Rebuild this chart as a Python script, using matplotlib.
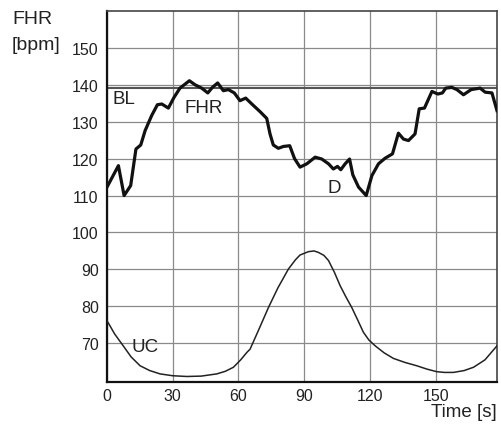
import numpy as np
import matplotlib
matplotlib.use('Agg')
import matplotlib.pyplot as plt

plt.rcParams['font.family'] = ['Liberation Sans', 'DejaVu Sans']

# FHR trace (time [s], bpm)
fhr_t = [0, 5.2, 7.8, 10.8, 13.2, 15.4, 17.4, 20.4, 23, 25, 28, 30.6, 33.3, 37.6, 40.2,
         43.2, 46, 48.1, 50.5, 53.1, 55.4, 58.1, 60.7, 63.3, 66.1, 69.9, 72.9, 74.4, 75.9,
         78.2, 80.5, 83.4, 85.6, 88.1, 91.2, 95, 98, 101.1, 103.3, 105.2, 106.7, 108.7,
         110.7, 112.2, 114.8, 118.3, 120.9, 123.9, 126.9, 130.3, 133, 135.3, 137.6, 140.6,
         142.5, 144.9, 148.3, 151, 153.1, 154.6, 157.4, 159.7, 162.7, 166.2, 170.3, 172.6,
         175.7, 178]
fhr_v = [112.3, 118.1, 110, 112.7, 122.6, 123.7, 127.6, 131.7, 134.6, 134.8, 133.7, 136.6,
         139.1, 141.1, 140, 139.1, 137.8, 139.3, 140.5, 138.4, 138.7, 137.8, 135.7, 136.4,
         134.8, 132.7, 130.9, 126.7, 123.7, 122.8, 123.3, 123.5, 120, 117.7, 118.6, 120.4,
         119.9, 118.6, 117.2, 117.9, 117, 118.6, 119.9, 115.6, 112.3, 110, 115.4, 118.6,
         120.1, 121.3, 126.9, 125.3, 124.9, 126.7, 133.5, 133.7, 138.2, 137.5, 137.8, 139.1,
         139.3, 138.7, 137.3, 138.7, 139.1, 138, 137.8, 133]

# uterine contraction trace
uc_t = [0, 3.5, 7.4, 11, 15.1, 19.5, 24.2, 30, 36.4, 43, 50.1, 54, 57.7, 61, 63.8, 65.3,
        69.5, 73.7, 78, 82.8, 86, 88.1, 91.9, 94.5, 96.5, 99, 101.1, 103.8, 106.4, 109,
        111.7, 114.5, 117, 119.5, 122.4, 126.5, 130.7, 136, 141.4, 146, 150.5, 154, 158.1,
        163, 167.3, 172.5, 178]
uc_v = [76.1, 72.5, 69.3, 66.3, 63.9, 62.6, 61.7, 61.2, 61, 61.1, 61.7, 62.4, 63.5, 65.5,
        67.5, 68.4, 74, 79.7, 85, 90.1, 92.6, 93.9, 94.8, 95, 94.6, 93.8, 92.4, 89.2,
        85.6, 82.6, 79.7, 76.2, 73, 70.9, 69.3, 67.4, 65.9, 64.8, 63.9, 63, 62.3, 62.1,
        62.1, 62.6, 63.5, 65.5, 69.3]

baseline = 139
x_ticks = [0, 30, 60, 90, 120, 150]
y_ticks = [70, 80, 90, 100, 110, 120, 130, 140, 150]

fig = plt.figure(figsize=(5.01, 4.27), dpi=100)
ax = fig.add_axes([0.2136, 0.103, 0.7784, 0.869])

ax.plot(uc_t, uc_v, color='#222222', linewidth=1.1, zorder=3)
ax.plot(fhr_t, fhr_v, color='#111111', linewidth=2.3, zorder=4)
ax.axhline(baseline, color='#555555', linewidth=1.5, zorder=2)

ax.set_xlim(0, 178)
ax.set_ylim(59.5, 160)
ax.set_xticks(x_ticks)
ax.set_yticks(y_ticks)
ax.tick_params(length=0, labelsize=11.5, colors='#222222')
ax.tick_params(axis='y', pad=6)
ax.tick_params(axis='x', pad=4)
ax.grid(color='#8a8a8a', linewidth=0.9)
ax.set_axisbelow(True)

for s in ['left', 'bottom']:
    ax.spines[s].set_linewidth(1.6)
    ax.spines[s].set_color('#111111')
for s in ['top', 'right']:
    ax.spines[s].set_linewidth(1.2)
    ax.spines[s].set_color('#444444')

# annotations
ax.text(2.7, 136.2, 'BL', fontsize=13.5, va='center', ha='left', color='#222222')
ax.text(44.3, 133.8, 'FHR', fontsize=13.5, va='center', ha='center', color='#222222')
ax.text(103.5, 112.3, 'D', fontsize=13.5, va='center', ha='center', color='#222222')
ax.text(17.5, 69.2, 'UC', fontsize=13.5, va='center', ha='center', color='#222222')

fig.text(12 / 501, 1 - 20 / 427, 'FHR', fontsize=14, va='center', ha='left', color='#222222')
fig.text(12 / 501, 1 - 45 / 427, '[bpm]', fontsize=14, va='center', ha='left', color='#222222')
fig.text(497 / 501, 1 - 413 / 427, 'Time [s]', fontsize=13.5, va='center', ha='right', color='#222222')

fig.savefig('out.png', dpi=100)
